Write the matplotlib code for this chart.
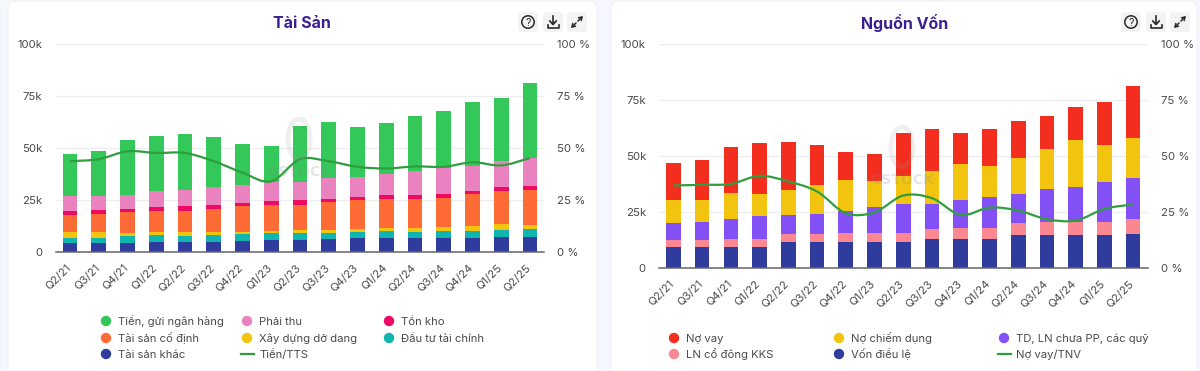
#!/usr/bin/env python

import matplotlib
matplotlib.use('Agg')
import matplotlib.pyplot as plt
import numpy as np
from matplotlib.patches import FancyBboxPatch, Circle, Ellipse, PathPatch
from matplotlib.path import Path
from matplotlib.transforms import ScaledTranslation

plt.rcParams['font.family'] = ['Inter', 'DejaVu Sans']

quarters = ['Q2/21', 'Q3/21', 'Q4/21', 'Q1/22', 'Q2/22', 'Q3/22', 'Q4/22', 'Q1/23', 'Q2/23',
            'Q3/23', 'Q4/23', 'Q1/24', 'Q2/24', 'Q3/24', 'Q4/24', 'Q1/25', 'Q2/25']

# Tai San, bottom to top (thousands)
ts_khac = [3.9, 4.3, 4.3, 4.7, 4.7, 4.7, 5.1, 5.6, 5.6, 5.9, 6.3, 6.7, 6.7, 6.7, 6.7, 7.2, 7.2]
dau_tu = [2.8, 2.4, 3.2, 3.2, 2.8, 3.2, 3.4, 3.2, 3.2, 2.9, 3.3, 3.3, 2.9, 3.3, 3.3, 3.2, 3.7]
xay_dung = [2.6, 2.9, 1.3, 1.4, 1.8, 1.4, 1.1, 1.3, 1.6, 1.6, 1.3, 1.4, 1.8, 1.9, 2.5, 2.9, 2.1]
co_dinh = [8.4, 8.5, 10.3, 10.3, 10.3, 11.2, 12.1, 12.1, 12.1, 13.5, 13.8, 14.0, 14.0, 13.9, 15.1, 15.9, 16.7]
ton_kho = [2.0, 2.0, 1.4, 1.7, 2.4, 2.0, 1.6, 2.0, 2.2, 1.5, 1.6, 1.7, 2.0, 2.1, 1.6, 2.1, 1.9]
phai_thu = [6.9, 6.7, 6.9, 7.9, 7.5, 8.8, 8.6, 9.5, 9.0, 10.1, 9.7, 10.3, 11.3, 12.4, 12.1, 12.4, 13.3]
tien = [20.4, 21.4, 26.2, 26.5, 27.0, 23.9, 19.8, 17.0, 27.0, 26.8, 24.2, 24.4, 26.5, 27.4, 30.9, 30.3, 36.5]
tien_tts = [43.5, 44.5, 48.3, 47.5, 47.5, 43.5, 38.0, 33.8, 44.5, 43.5, 40.8, 40.0, 41.0, 40.8, 43.0, 41.5, 45.0]

# Nguon Von, bottom to top (thousands)
von_dl = [9.2, 9.2, 9.2, 9.2, 11.2, 11.2, 11.2, 11.2, 11.2, 12.7, 12.7, 12.7, 14.6, 14.6, 14.6, 14.6, 15.1]
ln_kks = [3.0, 3.0, 3.5, 3.5, 3.7, 3.7, 4.2, 4.2, 4.2, 4.6, 4.9, 4.9, 5.4, 5.8, 5.8, 5.8, 6.5]
td_ln = [7.8, 8.2, 8.8, 10.4, 8.5, 9.2, 10.1, 11.6, 13.1, 11.2, 12.5, 14.0, 12.8, 14.9, 15.4, 17.8, 18.5]
chiem_dung = [10.1, 10.0, 12.0, 10.0, 11.2, 12.9, 13.7, 11.6, 12.6, 14.6, 16.1, 13.9, 16.2, 17.9, 21.1, 16.5, 18.0]
no_vay = [16.8, 17.7, 20.4, 22.6, 21.6, 18.0, 12.4, 12.2, 19.3, 18.9, 14.2, 16.5, 16.4, 14.5, 15.1, 19.2, 23.1]
vay_tnv = [36.7, 37.0, 37.4, 41.0, 38.5, 34.0, 24.3, 24.7, 32.2, 31.0, 23.5, 26.8, 25.5, 21.6, 21.0, 26.2, 28.3]

BLUE = '#2f3c9e'
TEAL = '#0fb5ae'
YELLOW = '#f2c40f'
ORANGE = '#ff6b35'
CRIMSON = '#ee0a63'
PINK = '#ea82c0'
GREEN = '#34c759'
LINE = '#2f9e3f'
RED = '#f42e1f'
SALMON = '#fb8792'
PURPLE = '#8250f5'
TEXT = '#4a4a4a'
TITLE = '#3b1f8f'

W, H = 1200, 371


def smooth_path(xs, ys):
    # same curve on the web chart: bezier through every point
    xs = np.asarray(xs, dtype=float)
    ys = np.asarray(ys, dtype=float)
    slope = np.gradient(ys, xs)
    verts = [(xs[0], ys[0])]
    codes = [Path.MOVETO]
    for i in range(len(xs) - 1):
        dx = (xs[i + 1] - xs[i]) / 3
        verts += [(xs[i] + dx, ys[i] + slope[i] * dx),
                  (xs[i + 1] - dx, ys[i + 1] - slope[i + 1] * dx),
                  (xs[i + 1], ys[i + 1])]
        codes += [Path.CURVE4] * 3
    return Path(verts, codes)


def px_axes(left, right, top, bottom):
    return [left / W, 1 - bottom / H, (right - left) / W, (bottom - top) / H]


def stacked_panel(fig, box, stacks, line):
    ax = fig.add_axes(px_axes(*box), zorder=2)
    ax.patch.set_alpha(0)
    x = np.arange(len(quarters))
    base = np.zeros(len(quarters))
    for values, color in stacks:
        ax.bar(x, values, 0.51, bottom=base, color=color, zorder=2)
        base = base + np.array(values)
    ax.set_xlim(-0.5, len(quarters) - 0.5)
    ax.set_ylim(0, 100)
    ax.set_yticks([0, 25, 50, 75, 100], ['0', '25k', '50k', '75k', '100k'])
    ax.set_xticks(x, quarters, rotation=45, ha='right', rotation_mode='anchor')
    ax.tick_params(axis='x', length=0, pad=8, labelsize=8.2, labelcolor=TEXT)
    ax.tick_params(axis='y', length=0, pad=9.4, labelsize=8.2, labelcolor=TEXT)
    shift = ScaledTranslation(-4 / 100, 0, fig.dpi_scale_trans)
    for lab in ax.get_xticklabels():
        lab.set_transform(lab.get_transform() + shift)
    ax.grid(axis='y', color='#eeeeee', lw=1, zorder=0)
    ax.set_axisbelow(True)
    for s in ['top', 'left', 'right']:
        ax.spines[s].set_visible(False)
    ax.spines['bottom'].set_color('#666666')
    ax.spines['bottom'].set_linewidth(1.1)

    ax2 = ax.twinx()
    ax2.set_ylim(0, 100)
    ax2.set_yticks([0, 25, 50, 75, 100], ['0 %', '25 %', '50 %', '75 %', '100 %'])
    ax2.tick_params(axis='y', length=0, pad=9.4, labelsize=8.2, labelcolor=TEXT)
    for s in ax2.spines.values():
        s.set_visible(False)
    ax2.add_patch(PathPatch(smooth_path(x, line), fill=False, edgecolor=LINE, lw=1.6, zorder=5))


def card(ov, x0, x1):
    ov.add_patch(FancyBboxPatch((x0, 1), x1 - x0, H + 20, boxstyle='round,pad=0,rounding_size=8',
                                fc='white', ec='#f0f0f6', lw=0.8))


def buttons(ov, xs):
    for bx in xs:
        ov.add_patch(FancyBboxPatch((bx - 10, 12), 20, 20, boxstyle='round,pad=0,rounding_size=4',
                                    fc='#f3f3f5', ec='none'))
    c = '#2a2a2a'
    a, b, e = xs
    ov.add_patch(Circle((a, 22), 6.2, fc='none', ec=c, lw=1.1))
    ov.text(a, 22, '?', ha='center', va='center_baseline', fontsize=7.5, color=c)
    ov.plot([b, b], [15.5, 24], color=c, lw=1.2)
    ov.plot([b - 3.2, b, b + 3.2], [21, 24.5, 21], color=c, lw=1.2)
    ov.plot([b - 5.5, b - 5.5, b + 5.5, b + 5.5], [24.5, 27.5, 27.5, 24.5], color=c, lw=1.2)
    ov.annotate('', (e + 6, 16), (e + 1, 21), arrowprops=dict(arrowstyle='->,head_width=0.14,head_length=0.22', color=c, lw=1.1, shrinkA=0, shrinkB=0))
    ov.annotate('', (e - 6, 28), (e - 1, 23), arrowprops=dict(arrowstyle='->,head_width=0.14,head_length=0.22', color=c, lw=1.1, shrinkA=0, shrinkB=0))


def legend_rows(ov, entries):
    for mx, my, label, color, kind in entries:
        if kind == 'line':
            ov.plot([mx - 6.5, mx + 6.5], [my, my], color=color, lw=1.6)
        else:
            ov.add_patch(Circle((mx, my), 5.2, fc=color, ec='none'))
        ov.text(mx + 12, my + 4, label, ha='left', va='baseline', fontsize=8.1, color=TEXT)


fig = plt.figure(figsize=(W / 100, H / 100), dpi=100, facecolor='#f6f6fd')

back = fig.add_axes([0, 0, 1, 1], zorder=0)
back.set_xlim(0, W)
back.set_ylim(H, 0)
back.axis('off')
card(back, 8, 597)
card(back, 611, 1197)

stacked_panel(fig, (55.6, 544.4, 44, 251.5),
              [(ts_khac, BLUE), (dau_tu, TEAL), (xay_dung, YELLOW), (co_dinh, ORANGE),
               (ton_kho, CRIMSON), (phai_thu, PINK), (tien, GREEN)], tien_tts)
stacked_panel(fig, (659, 1147.5, 44, 267.5),
              [(von_dl, BLUE), (ln_kks, SALMON), (td_ln, PURPLE), (chiem_dung, YELLOW),
               (no_vay, RED)], vay_tnv)

front = fig.add_axes([0, 0, 1, 1], zorder=3)
front.set_xlim(0, W)
front.set_ylim(H, 0)
front.axis('off')
front.patch.set_alpha(0)

front.text(302, 28.5, 'Tài Sản', ha='center', va='baseline', fontsize=11.5, fontweight='bold', color=TITLE)
front.text(905, 28.5, 'Nguồn Vốn', ha='center', va='baseline', fontsize=11.5, fontweight='bold', color=TITLE)
buttons(front, [528, 553, 577])
buttons(front, [1131, 1156, 1180])

# faint watermark, sits over the bars
for cx, ey, ty in [(299, 139, 172), (902, 147, 180)]:
    front.add_patch(Ellipse((cx, ey), 22, 40, fc='none', ec='#999999', lw=3.5, alpha=0.15))
    front.text(cx, ty, 'GSTOCK', ha='center', va='center', fontsize=10, fontweight='bold',
               color='#888888', alpha=0.22, family='DejaVu Sans')

legend_rows(front, [
    (106, 321, 'Tiền, gửi ngân hàng', GREEN, 'dot'),
    (247, 321, 'Phải thu', PINK, 'dot'),
    (389, 321, 'Tồn kho', CRIMSON, 'dot'),
    (106, 338, 'Tài sản cố định', ORANGE, 'dot'),
    (247, 338, 'Xây dựng dở dang', YELLOW, 'dot'),
    (389, 338, 'Đầu tư tài chính', TEAL, 'dot'),
    (106, 354, 'Tài sản khác', BLUE, 'dot'),
    (247, 354, 'Tiền/TTS', LINE, 'line'),
])
legend_rows(front, [
    (674, 338, 'Nợ vay', RED, 'dot'),
    (839, 338, 'Nợ chiếm dụng', YELLOW, 'dot'),
    (1004, 338, 'TD, LN chưa PP, các quỹ', PURPLE, 'dot'),
    (674, 354, 'LN cổ đông KKS', SALMON, 'dot'),
    (839, 354, 'Vốn điều lệ', BLUE, 'dot'),
    (1004, 354, 'Nợ vay/TNV', LINE, 'line'),
])

fig.savefig('out.png', dpi=100)
